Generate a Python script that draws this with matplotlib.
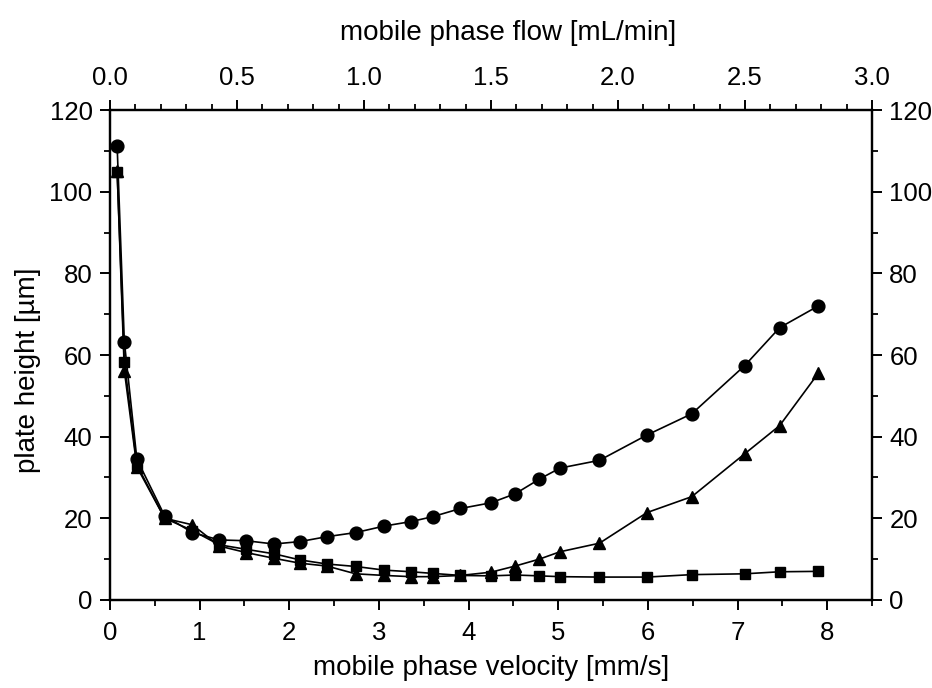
import matplotlib
matplotlib.use("Agg")
import matplotlib.pyplot as plt
from matplotlib.ticker import MultipleLocator

plt.rcParams['font.family'] = ['Liberation Sans', 'DejaVu Sans']

velocity = [0.08, 0.16, 0.30, 0.61, 0.92, 1.22, 1.52, 1.83, 2.12, 2.42, 2.74, 3.06,
            3.36, 3.60, 3.91, 4.25, 4.52, 4.79, 5.02, 5.46, 5.99, 6.49, 7.08, 7.47, 7.90]
h_circle = [111.2, 63.3, 34.5, 20.6, 16.5, 14.7, 14.5, 13.7, 14.3, 15.5, 16.5, 18.1,
            19.2, 20.4, 22.4, 23.8, 26.0, 29.6, 32.3, 34.2, 40.4, 45.6, 57.4, 66.7, 72.0]
h_triangle = [105.0, 56.2, 32.6, 20.0, 18.4, 13.2, 11.6, 10.2, 9.0, 8.3, 6.4, 6.0,
              5.7, 5.7, 6.0, 6.8, 8.3, 10.0, 11.8, 13.9, 21.4, 25.3, 35.8, 42.7, 55.5]
h_square = [104.9, 58.4, 33.1, 20.0, 17.0, 13.5, 12.4, 11.3, 9.8, 8.8, 8.2, 7.3,
            6.9, 6.5, 6.0, 5.9, 6.1, 5.9, 5.7, 5.6, 5.6, 6.2, 6.4, 6.9, 7.0]

x_ticks = [0, 1, 2, 3, 4, 5, 6, 7, 8]
flow_ticks = [0.0, 0.5, 1.0, 1.5, 2.0, 2.5, 3.0]
y_ticks = [0, 20, 40, 60, 80, 100, 120]

TICK_FS = 18.5
LABEL_FS = 20

fig = plt.figure(figsize=(9.32, 6.88), dpi=100)
ax = fig.add_axes([0.118, 0.128, 0.8176, 0.712])

lw = 1.2
ax.plot(velocity, h_square, color='black', lw=lw, marker='s', ms=7.3, zorder=3)
ax.plot(velocity, h_triangle, color='black', lw=lw, marker='^', ms=8.8, zorder=3)
ax.plot(velocity, h_circle, color='black', lw=lw, marker='o', ms=9.2, zorder=4)

ax.set_xlim(0, 8.5)
ax.set_ylim(0, 120)
ax.set_xticks(x_ticks)
ax.set_yticks(y_ticks)
ax.xaxis.set_minor_locator(MultipleLocator(0.5))
ax.yaxis.set_minor_locator(MultipleLocator(10))

for s in ax.spines.values():
    s.set_linewidth(1.6)

ax.tick_params(axis='both', which='major', direction='out', length=7.5, width=1.4,
               labelsize=TICK_FS)
ax.tick_params(axis='both', which='minor', direction='out', length=4.5, width=1.3)
ax.tick_params(axis='x', which='major', pad=8)
ax.tick_params(axis='y', which='major', pad=5)
ax.tick_params(axis='y', which='both', left=True, right=True, labelleft=True, labelright=True)

ax.set_xlabel('mobile phase velocity [mm/s]', fontsize=LABEL_FS, labelpad=7, x=0.5)
ax.set_ylabel('plate height [µm]', fontsize=LABEL_FS, labelpad=6, y=0.469)

ax2 = ax.twiny()
ax2.set_xlim(0, 3.0)
ax2.set_xticks(flow_ticks)
ax2.set_xticklabels([f'{v:.1f}' for v in flow_ticks])
ax2.xaxis.set_minor_locator(MultipleLocator(0.1))
ax2.tick_params(axis='x', which='major', direction='out', length=7.5, width=1.4,
                labelsize=TICK_FS, pad=7)
ax2.tick_params(axis='x', which='minor', direction='out', length=4.5, width=1.3)
ax2.set_xlabel('mobile phase flow [mL/min]', fontsize=LABEL_FS, labelpad=19, x=0.522)
for s in ax2.spines.values():
    s.set_linewidth(1.6)

fig.savefig('out.png', dpi=100)
